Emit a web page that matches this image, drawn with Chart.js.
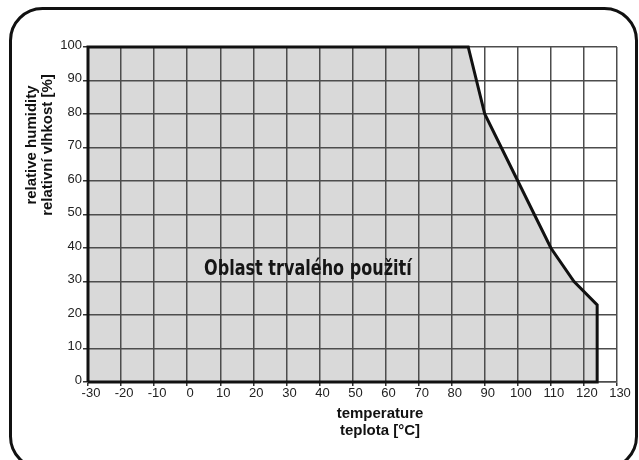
<!DOCTYPE html>
<html>
<head>
<meta charset="utf-8">
<script src="https://cdn.jsdelivr.net/npm/chart.js@4.4.1/dist/chart.umd.min.js"></script>
<style>
  html, body { margin: 0; padding: 0; background: #fff; }
  #wrap { position: relative; width: 639px; height: 460px; }
</style>
</head>
<body>
<div id="wrap"><canvas id="chart"></canvas></div>
<script>
/* ═══════════════════════════════════════════
   DATA
═══════════════════════════════════════════ */
// boundary of the permitted operating region (temperature °C, relative humidity %)
const areaTemp = [-30, -30, 85, 90, 100, 110, 117, 124, 124, -30];
const areaRH   = [0, 100, 100, 80, 60, 40, 30, 23, 0, 0];

const xTicks = [-30, -20, -10, 0, 10, 20, 30, 40, 50, 60, 70, 80, 90, 100, 110, 120, 130];
const yTicks = [0, 10, 20, 30, 40, 50, 60, 70, 80, 90, 100];

const areaLabel = 'Oblast trvalého použití';
const areaLabelAt = { x: 36.5, y: 33.5 };
const xTitle = ['temperature', 'teplota [°C]'];
const yTitle = ['relative humidity', 'relativní vlhkost [%]'];

const outline = areaTemp.map((t, k) => ({ x: t, y: areaRH[k] }));
// fill uses the open path; the filler closes it along y = 0
const fillPath = outline.slice(0, -1);

/* ═══════════════════════════════════════════
   PLUGINS
═══════════════════════════════════════════ */
const decor = {
  id: 'decor',
  beforeDatasetDraw(chart, args) {
    // outline is drawn last, on top of the grid
    if (args.index === 1) return false;
  },
  afterDraw(chart) {
    const ctx = chart.ctx;
    const xs = chart.scales.x, ys = chart.scales.y;

    // label inside the area
    ctx.save();
    ctx.fillStyle = '#151515';
    ctx.font = 'bold 21px "Liberation Sans Narrow", "DejaVu Sans Condensed", sans-serif';
    ctx.textAlign = 'center';
    ctx.textBaseline = 'middle';
    ctx.translate(xs.getPixelForValue(areaLabelAt.x), ys.getPixelForValue(areaLabelAt.y));
    ctx.scale(0.85, 1);
    ctx.fillText(areaLabel, 0, 0);
    ctx.restore();

    // axis titles
    ctx.save();
    ctx.fillStyle = '#111';
    ctx.font = 'bold 15px "Liberation Sans", Arial, sans-serif';
    ctx.textAlign = 'center';
    ctx.textBaseline = 'middle';
    ctx.fillText(xTitle[0], 380, 414);
    ctx.fillText(xTitle[1], 380, 431);
    ctx.translate(40, 145);
    ctx.rotate(-Math.PI / 2);
    ctx.fillText(yTitle[0], 0, -8);
    ctx.fillText(yTitle[1], 0, 8);
    ctx.restore();

    // outline of the area
    ctx.save();
    chart.getDatasetMeta(1).controller.draw();
    ctx.restore();

    // rounded frame
    ctx.save();
    ctx.strokeStyle = '#111';
    ctx.lineWidth = 3;
    ctx.beginPath();
    ctx.roundRect(10.5, 8.5, 626, 460, 32);
    ctx.stroke();
    ctx.restore();
  }
};

/* ═══════════════════════════════════════════
   CHART
═══════════════════════════════════════════ */
const tickFont = { family: '"Liberation Sans", Arial, sans-serif', size: 13 };
const gridColor = '#4d4d4d';

new Chart(document.getElementById('chart'), {
  type: 'line',
  data: {
    datasets: [
      {
        data: fillPath,
        borderWidth: 0,
        borderColor: 'rgba(0,0,0,0)',
        backgroundColor: '#d9d9d9',
        fill: 'origin',
        pointRadius: 0,
        tension: 0
      },
      {
        data: outline,
        borderColor: '#111',
        borderWidth: 3,
        borderJoinStyle: 'miter',
        fill: false,
        pointRadius: 0,
        tension: 0
      }
    ]
  },
  options: {
    responsive: true,
    maintainAspectRatio: false,
    animation: false,
    layout: { padding: { left: 0, top: 47, right: 22, bottom: 0 } },
    plugins: { legend: { display: false }, tooltip: { enabled: false } },
    scales: {
      x: {
        type: 'linear',
        min: -30, max: 130,
        afterFit: s => { s.height = 78; },
        afterBuildTicks: s => { s.ticks = xTicks.map(v => ({ value: v })); },
        grid: { z: 1, color: gridColor, lineWidth: 1.5, tickLength: 4, tickColor: '#333' },
        border: { z: 1, color: gridColor, width: 1.5 },
        ticks: { z: 1, font: tickFont, color: '#222', padding: 0, labelOffset: 3, maxRotation: 0, autoSkip: false }
      },
      y: {
        type: 'linear',
        min: 0, max: 100,
        afterFit: s => { s.width = 88; },
        afterBuildTicks: s => { s.ticks = yTicks.map(v => ({ value: v })); },
        grid: { z: 1, color: gridColor, lineWidth: 1.5, tickLength: 5, tickColor: '#333' },
        border: { z: 1, color: gridColor, width: 1.5 },
        ticks: { z: 1, font: tickFont, color: '#222', padding: 1, labelOffset: -2, autoSkip: false }
      }
    }
  },
  plugins: [decor]
});
</script>
</body>
</html>
